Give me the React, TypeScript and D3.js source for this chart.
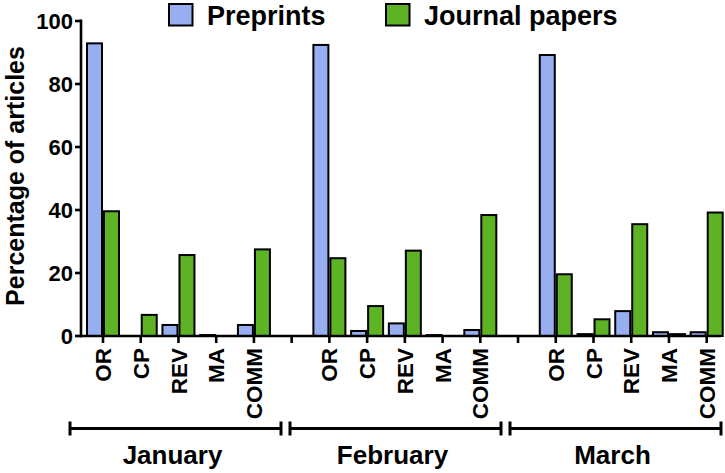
import React from "react";
import * as d3 from "d3";

const months = ["January", "February", "March"];
const types = ["OR", "CP", "REV", "MA", "COMM"];
const seriesNames = ["Preprints", "Journal papers"];
const yTicks = [0, 20, 40, 60, 80, 100];

const preprintsJan = [92.9, 0, 3.5, 0.3, 3.5];
const journalJan = [39.6, 6.7, 25.7, 0, 27.5];
const preprintsFeb = [92.4, 1.6, 4.0, 0.3, 1.9];
const journalFeb = [24.7, 9.5, 27.1, 0, 38.4];
const preprintsMar = [89.2, 0.6, 7.9, 1.2, 1.2];
const journalMar = [19.6, 5.3, 35.5, 0.6, 39.2];

const preprints = [preprintsJan, preprintsFeb, preprintsMar];
const journals = [journalJan, journalFeb, journalMar];

const BLUE = "#97AEF1";
const GREEN = "#5DB324";
const FONT = "'Liberation Sans', Arial, sans-serif";

export default function App() {
  const W = 725;
  const H = 473;

  const slots: string[] = [];
  months.forEach((m, i) => {
    types.forEach((t) => slots.push(`${m}-${t}`));
    if (i < months.length - 1) slots.push(`gap-${i}`);
  });

  const x = d3.scalePoint<string>().domain(slots).range([103, 706.7]);
  const y = d3.scaleLinear().domain([0, 100]).range([336, 21]);
  const sub = d3.scaleBand<string>().domain(seriesNames).range([-17, 17]).padding(0);
  const groupX = d3.scaleLinear().domain([0, 3]).range([70, 730]);
  const bracketW = 211;

  const bars: { key: string; cx: number; s: string; v: number }[] = [];
  months.forEach((m, mi) => {
    types.forEach((t, ti) => {
      const cx = x(`${m}-${t}`)!;
      bars.push({ key: `${m}-${t}-p`, cx, s: seriesNames[0], v: preprints[mi][ti] });
      bars.push({ key: `${m}-${t}-j`, cx, s: seriesNames[1], v: journals[mi][ti] });
    });
  });

  const axisLeft = 81;
  const axisRight = 721;
  const bracketY = 428.5;

  return (
    <svg width={W} height={H} style={{ position: "absolute", left: 0, top: 0, background: "#fff" }}>
      {bars.map((b) =>
        b.v > 0 ? (
          <rect
            key={b.key}
            x={b.cx + sub(b.s)! + 1}
            y={y(b.v)}
            width={sub.bandwidth() - 2}
            height={Math.max(y(0) - y(b.v), 0.5)}
            fill={b.s === seriesNames[0] ? BLUE : GREEN}
            stroke="#000"
            strokeWidth={2}
          />
        ) : null
      )}

      <line x1={axisLeft} x2={axisLeft} y1={y(100) - 1.5} y2={y(0) + 1.3} stroke="#000" strokeWidth={2.6} />
      {yTicks.map((t) => (
        <g key={t}>
          <line x1={axisLeft - 6} x2={axisLeft} y1={y(t)} y2={y(t)} stroke="#000" strokeWidth={2.6} />
          <text
            x={axisLeft - 8}
            y={y(t)}
            dy="0.36em"
            textAnchor="end"
            fontFamily={FONT}
            fontWeight="bold"
            fontSize={22}
            fill="#000"
          >
            {t}
          </text>
        </g>
      ))}

      <line x1={axisLeft - 1.3} x2={axisRight} y1={y(0)} y2={y(0)} stroke="#000" strokeWidth={2.6} />
      {slots.map((s) => (
        <line key={s} x1={x(s)!} x2={x(s)!} y1={y(0)} y2={y(0) + 7} stroke="#000" strokeWidth={2.6} />
      ))}
      {months.map((m) =>
        types.map((t) => {
          const cx = x(`${m}-${t}`)!;
          return (
            <text
              key={`${m}-${t}-lab`}
              transform={`translate(${cx},${y(0) + 12}) rotate(-90)`}
              dy="0.36em"
              textAnchor="end"
              fontFamily={FONT}
              fontWeight="bold"
              fontSize={22.5}
              fill="#000"
            >
              {t}
            </text>
          );
        })
      )}

      {months.map((m, i) => {
        const x0 = groupX(i);
        const x1 = groupX(i) + bracketW;
        return (
          <g key={m}>
            <line x1={x0} x2={x1} y1={bracketY} y2={bracketY} stroke="#000" strokeWidth={3} />
            <line x1={x0} x2={x0} y1={bracketY - 7} y2={bracketY + 7} stroke="#000" strokeWidth={3} />
            <line x1={x1} x2={x1} y1={bracketY - 7} y2={bracketY + 7} stroke="#000" strokeWidth={3} />
            <text
              x={(x0 + x1) / 2 - 3}
              y={464}
              textAnchor="middle"
              fontFamily={FONT}
              fontWeight="bold"
              fontSize={26}
              fill="#000"
            >
              {m}
            </text>
          </g>
        );
      })}

      <text
        transform={`translate(24,176) rotate(-90)`}
        textAnchor="middle"
        fontFamily={FONT}
        fontWeight="bold"
        fontSize={25}
        fill="#000"
      >
        Percentage of articles
      </text>

      {seriesNames.map((s, i) => {
        const lx = i === 0 ? 169 : 386;
        return (
          <g key={s}>
            <rect x={lx} y={4} width={23.5} height={21.5} fill={i === 0 ? BLUE : GREEN} stroke="#000" strokeWidth={2} />
            <text x={lx + 38} y={24.5} fontFamily={FONT} fontWeight="bold" fontSize={27} fill="#000">
              {s}
            </text>
          </g>
        );
      })}
    </svg>
  );
}
